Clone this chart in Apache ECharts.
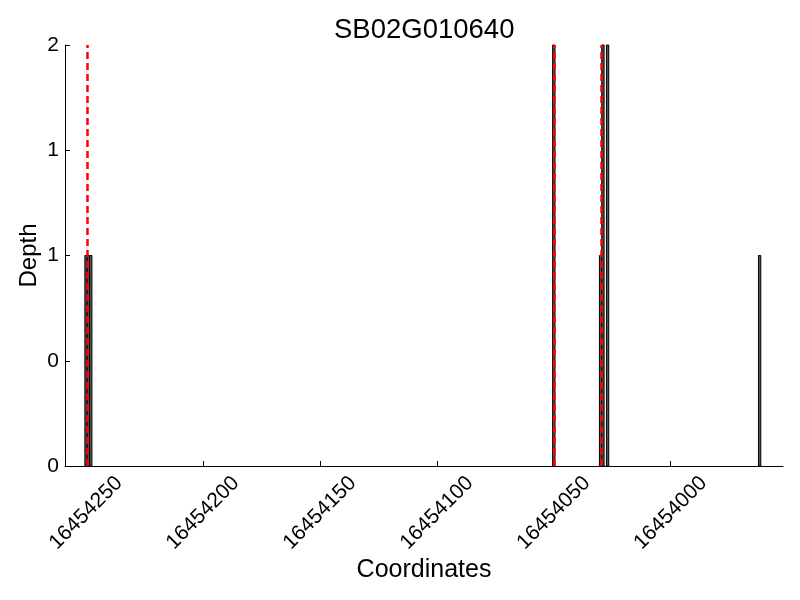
<!DOCTYPE html>
<html>
<head>
<meta charset="utf-8">
<script src="https://cdn.jsdelivr.net/npm/echarts@6/dist/echarts.min.js"></script>
<style>html,body{margin:0;padding:0;background:#fff}#c{width:800px;height:600px}</style>
</head>
<body>
<div id="c"></div>
<script>
const title = 'SB02G010640';
const positions = [16454250, 16454249, 16454248, 16454050, 16454030, 16454029, 16454027, 16453962];
const depths    = [1, 1, 1, 2, 1, 2, 2, 1];
const markers   = [16454249.5, 16454050, 16454029.5];
const xTicks    = [16454250, 16454200, 16454150, 16454100, 16454050, 16454000];
const yTicks    = [0, 0.5, 1, 1.5, 2];

const font = 'Liberation Sans, Arial, sans-serif';
const chart = echarts.init(document.getElementById('c'), null, {renderer: 'canvas'});
chart.setOption({
  animation: false,
  backgroundColor: '#fff',
  title: {text: title, left: 334, top: 16, padding: 0,
    textStyle: {fontFamily: font, fontSize: 27.5, fontWeight: 'normal', color: '#000'}},
  grid: {left: 65, right: 17, top: 45, bottom: 134, containLabel: false, outerBoundsMode: 'none'},
  xAxis: {
    type: 'value', inverse: true, min: 16453952, max: 16454259,
    name: 'Coordinates', nameLocation: 'middle', nameGap: 92, nameMoveOverlap: false,
    nameTextStyle: {fontFamily: font, fontSize: 25, color: '#000'},
    axisLine: {show: true, lineStyle: {color: '#000', width: 1}},
    axisTick: {show: true, inside: true, length: 5, customValues: xTicks, lineStyle: {color: '#000'}},
    axisLabel: {customValues: xTicks, rotate: 45, align: 'center', verticalAlign: 'middle', margin: 47,
      fontFamily: font, fontSize: 21, color: '#000', formatter: v => String(v)},
    splitLine: {show: false}
  },
  yAxis: {
    type: 'value', min: 0, max: 2, interval: 0.5,
    name: 'Depth', nameLocation: 'middle', nameGap: 24, nameRotate: 90, nameMoveOverlap: false,
    nameTextStyle: {fontFamily: font, fontSize: 24, color: '#000'},
    axisLine: {show: true, lineStyle: {color: '#000', width: 1}},
    axisTick: {show: true, inside: true, length: 5, lineStyle: {color: '#000'}},
    axisLabel: {margin: 6, fontFamily: font, fontSize: 21, color: '#000', formatter: v => String(Math.floor(v))},
    splitLine: {show: false}
  },
  series: [{
    type: 'custom',
    data: positions.map((p, i) => [p, depths[i]]),
    renderItem: function (params, api) {
      const x = api.value(0), d = api.value(1);
      const a = api.coord([x - 0.5, d]);
      const b = api.coord([x + 0.5, 0]);
      return {type: 'rect',
        shape: {x: Math.min(a[0], b[0]), y: a[1], width: Math.abs(b[0] - a[0]), height: b[1] - a[1]},
        style: {fill: '#555', stroke: '#000', lineWidth: 1}};
    },
    markLine: {
      silent: true, symbol: 'none', z: 10,
      label: {show: false},
      lineStyle: {color: '#ff0000', type: [7, 4], width: 2.5, opacity: 1},
      data: markers.map(v => ({xAxis: v}))
    }
  }]
});
</script>
</body>
</html>
